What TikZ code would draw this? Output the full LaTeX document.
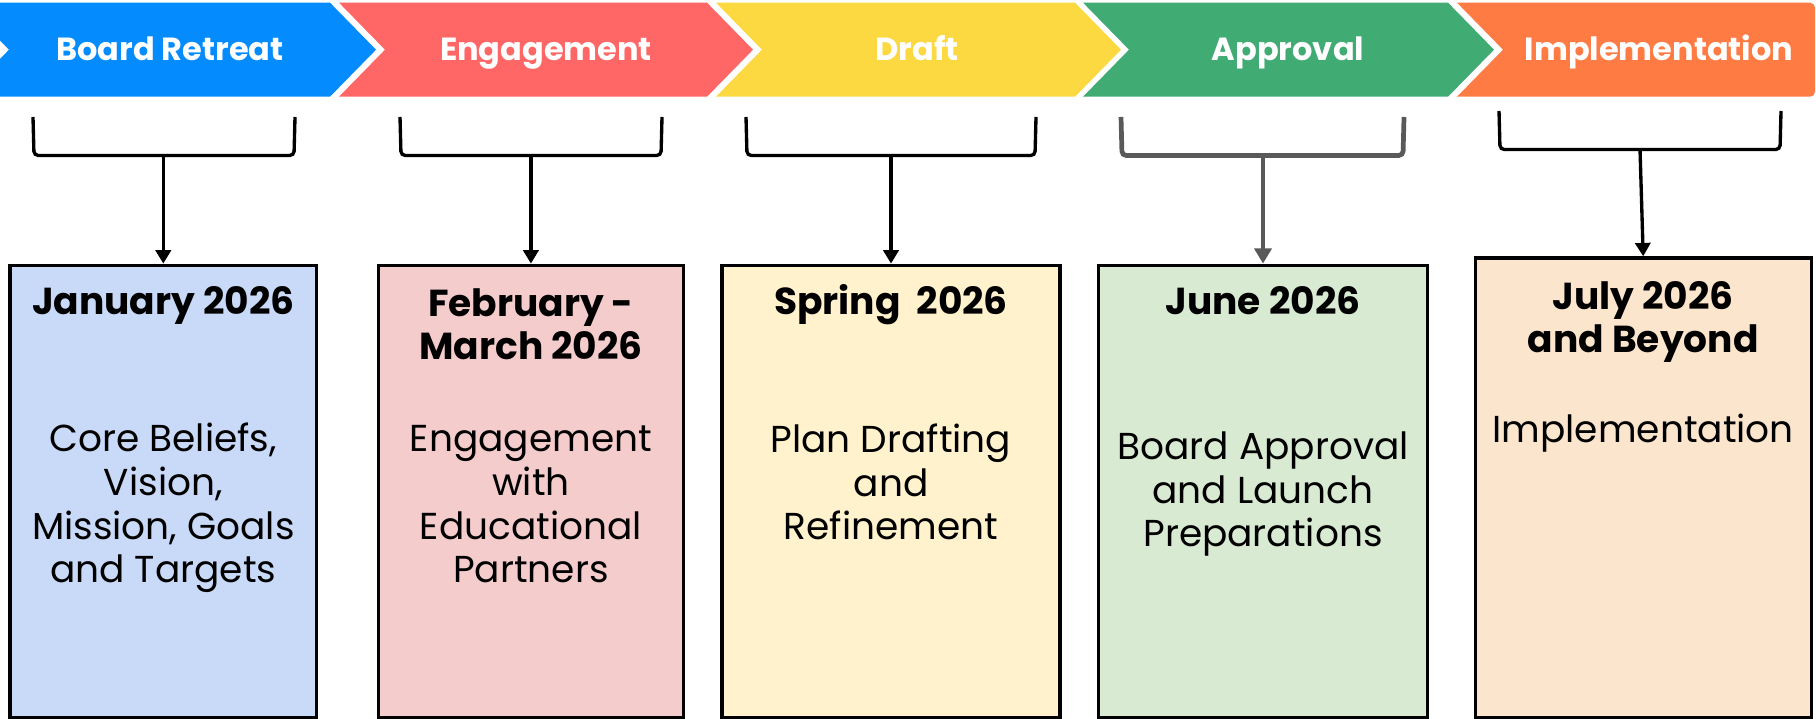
\documentclass[tikz,border=0pt]{standalone}
\usepackage{fontspec}
\setmainfont{Poppins}
\usetikzlibrary{arrows.meta}

\definecolor{retreatblue}{RGB}{4,140,255}
\definecolor{engagered}{RGB}{255,102,102}
\definecolor{draftyellow}{RGB}{252,217,64}
\definecolor{approvegreen}{RGB}{65,171,116}
\definecolor{implorange}{RGB}{255,123,68}
\definecolor{janfill}{HTML}{C9DAF8}
\definecolor{febfill}{HTML}{F4CCCC}
\definecolor{sprfill}{HTML}{FFF2CC}
\definecolor{junfill}{HTML}{D9EAD3}
\definecolor{julfill}{HTML}{FCE5CD}
\definecolor{bracegray}{HTML}{595959}

\tikzset{
phase/.style={text=white, font=\fontsize{9.1}{11}\selectfont\bfseries, anchor=base, inner sep=0pt},
datebox/.style={draw, line width=0.95pt, anchor=north, inner sep=0pt},
when/.style={font=\fontsize{10.68}{12.5}\selectfont\bfseries, anchor=base, align=center, inner sep=0pt},
what/.style={font=\fontsize{10.66}{12.45}\selectfont, anchor=base, align=center, inner sep=0pt},
brace/.style={line width=0.95pt, rounded corners=1.2pt},
drop/.style={line width=0.95pt, -{Triangle[width=4.3pt,length=3.8pt]}}
}

\begin{document}
\begin{tikzpicture}[x=0.01cm, y=-0.01cm]
\useasboundingbox (0,0) rectangle (1816,719);

% phase banner
\foreach \a/\b/\c in {-37/330/retreatblue, 339/707/engagered, 716/1075/draftyellow, 1083/1448/approvegreen}
	\fill[\c] (\a,2.7) -- (\b,2.7) -- (\b+46,49.7) -- (\b,96.7) -- (\a,96.7) -- (\a+46,49.7) -- cycle;
\fill[implorange] (1503,49.7) -- (1457,2.7) [rounded corners=1.4pt] -- (1815,2.7) -- (1815,96.7) [sharp corners] -- (1457,96.7) -- cycle;

\foreach \x/\n/\t in {170/retreat/Board Retreat, 546/engage/Engagement, 917/draft/Draft, 1288/approve/Approval, 1659/implement/Implementation}
	\node[phase] (\n) at (\x,60.5) {\t};

% brackets
\draw[brace] (33,117) -- (34,155.5) -- (294,155.5) -- (295,117);
\coordinate (b1) at (163.3,155.5);
\draw[brace] (400,117) -- (401,155.5) -- (661,155.5) -- (662,117);
\coordinate (b2) at (530.9,155.5);
\draw[brace] (746,117) -- (747,155.5) -- (1035,155.5) -- (1036,117);
\coordinate (b3) at (891,155.5);
\draw[brace, bracegray, line width=1.34pt] (1121,117) -- (1122,155.5) -- (1403,155.5) -- (1404,117);
\coordinate (b4) at (1263,155.5);
\draw[brace] (1499,111) -- (1500,149.5) -- (1780,149.5) -- (1781,111);
\coordinate (b5) at (1640,149.5);

% date boxes
\node[datebox, fill=janfill, minimum width=3.067cm, minimum height=4.519cm] (jan) at (163.3,263.6) {};
\node[datebox, fill=febfill, minimum width=3.05cm, minimum height=4.519cm] (feb) at (530.9,263.6) {};
\node[datebox, fill=sprfill, minimum width=3.377cm, minimum height=4.519cm] (spr) at (891,263.6) {};
\node[datebox, fill=junfill, minimum width=3.294cm, minimum height=4.519cm] (jun) at (1263,263.6) {};
\node[datebox, fill=julfill, minimum width=3.357cm, minimum height=4.592cm] (jul) at (1643.2,256.3) {};

\draw[drop] (b1) -- (jan.north);
\draw[drop] (b2) -- (feb.north);
\draw[drop] (b3) -- (spr.north);
\draw[drop, bracegray, line width=1.34pt, -{Triangle[width=4.8pt,length=4.3pt]}] (b4) -- (jun.north);
\draw[drop] (b5) -- (jul.north);

% texts (base = last line)
\node[when] (janwhen) at (163.3,315) {January 2026};
\node[what] (janwhat) at (163.3,583) {Core Beliefs,\\Vision,\\Mission, Goals\\and Targets};
\node[when] (febwhen) at (530.9,360) {February -\\March 2026};
\node[what] (febwhat) at (530.9,583) {Engagement\\with\\Educational\\Partners};
\node[when] (sprwhen) at (891,315) {Spring~~2026};
\node[what] (sprwhat) at (891,540) {Plan Drafting\\and\\Refinement};
\node[when] (junwhen) at (1263,315) {June 2026};
\node[what] (junwhat) at (1263,547) {Board Approval\\and Launch\\Preparations};
\node[when] (julwhen) at (1643.2,353) {July 2026\\and Beyond};
\node[what] (julwhat) at (1643.2,443) {Implementation};
\end{tikzpicture}
\end{document}
